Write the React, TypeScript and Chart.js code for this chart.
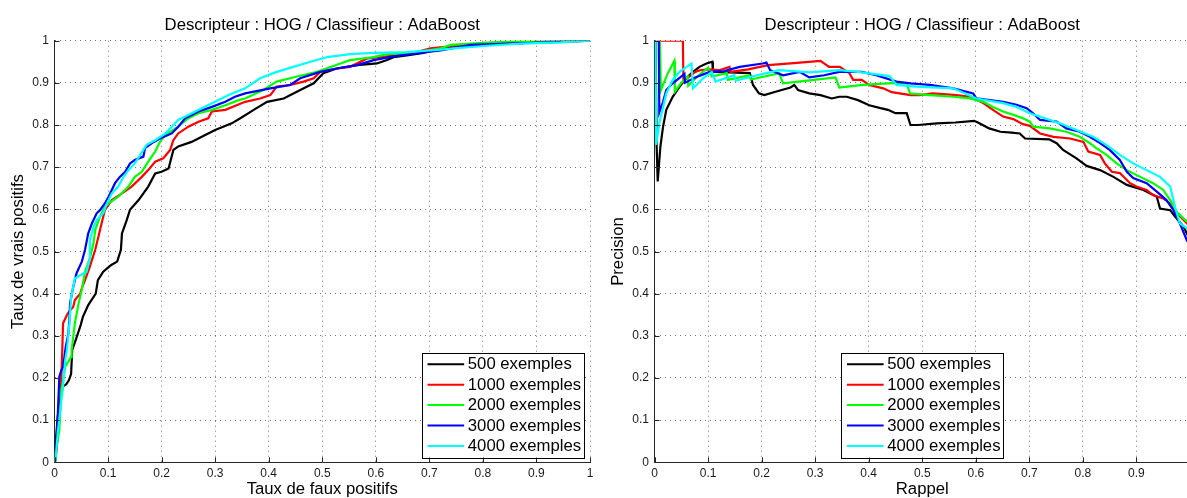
import React, { useEffect, useRef } from "react";
import { Chart, registerables } from "chart.js";

Chart.register(...registerables);

type Pt = [number, number];

const chartTitle = "Descripteur : HOG / Classifieur : AdaBoost";
const seriesLabels = ["500 exemples", "1000 exemples", "2000 exemples", "3000 exemples", "4000 exemples"];
const seriesColors = ["#000000", "#ff0000", "#00ff00", "#0000ff", "#00ffff"];
const axisTickValues = [0, 0.1, 0.2, 0.3, 0.4, 0.5, 0.6, 0.7, 0.8, 0.9, 1];
const tickLabels = ["0", "0.1", "0.2", "0.3", "0.4", "0.5", "0.6", "0.7", "0.8", "0.9", "1"];

// ROC curves: [false positive rate, true positive rate]
const roc500: Pt[] = [[0,0],[0.003,0.06],[0.006,0.108],[0.012,0.16],[0.016,0.18],[0.022,0.185],[0.027,0.195],[0.031,0.21],[0.033,0.266],[0.041,0.295],[0.049,0.326],[0.053,0.345],[0.063,0.373],[0.077,0.4],[0.081,0.432],[0.091,0.452],[0.106,0.468],[0.117,0.476],[0.124,0.504],[0.126,0.543],[0.135,0.575],[0.141,0.599],[0.157,0.622],[0.175,0.654],[0.188,0.685],[0.2,0.689],[0.213,0.697],[0.222,0.741],[0.231,0.749],[0.256,0.76],[0.275,0.772],[0.3,0.788],[0.331,0.804],[0.347,0.816],[0.372,0.836],[0.397,0.855],[0.428,0.863],[0.459,0.883],[0.484,0.899],[0.502,0.923],[0.527,0.934],[0.565,0.942],[0.602,0.946],[0.621,0.954],[0.633,0.961],[0.658,0.965],[0.689,0.971],[0.721,0.982],[0.8,0.99],[0.9,0.996],[0.95,1],[1,1]];
const roc1000: Pt[] = [[0,0],[0.002,0.005],[0.006,0.061],[0.011,0.148],[0.014,0.243],[0.016,0.33],[0.023,0.349],[0.027,0.357],[0.035,0.369],[0.038,0.385],[0.048,0.4],[0.052,0.416],[0.057,0.432],[0.066,0.464],[0.076,0.504],[0.082,0.535],[0.088,0.567],[0.094,0.598],[0.107,0.622],[0.126,0.638],[0.144,0.654],[0.163,0.677],[0.175,0.693],[0.188,0.713],[0.203,0.721],[0.216,0.741],[0.222,0.764],[0.231,0.78],[0.25,0.796],[0.269,0.808],[0.287,0.816],[0.294,0.832],[0.319,0.836],[0.356,0.855],[0.384,0.863],[0.403,0.871],[0.415,0.891],[0.44,0.895],[0.465,0.903],[0.484,0.911],[0.496,0.926],[0.527,0.934],[0.552,0.938],[0.584,0.958],[0.608,0.961],[0.64,0.965],[0.671,0.971],[0.702,0.982],[0.749,0.988],[0.85,0.996],[0.95,1],[1,1]];
const roc2000: Pt[] = [[0,0],[0.002,0.022],[0.009,0.077],[0.013,0.172],[0.016,0.195],[0.02,0.227],[0.031,0.25],[0.032,0.266],[0.038,0.33],[0.045,0.377],[0.051,0.409],[0.057,0.452],[0.066,0.484],[0.073,0.52],[0.076,0.551],[0.085,0.583],[0.094,0.606],[0.101,0.614],[0.119,0.63],[0.138,0.654],[0.15,0.677],[0.163,0.689],[0.175,0.713],[0.188,0.737],[0.197,0.76],[0.207,0.776],[0.231,0.796],[0.25,0.816],[0.269,0.828],[0.294,0.836],[0.319,0.847],[0.344,0.859],[0.356,0.863],[0.39,0.883],[0.415,0.903],[0.453,0.915],[0.49,0.926],[0.534,0.946],[0.552,0.954],[0.596,0.961],[0.621,0.968],[0.671,0.971],[0.721,0.982],[0.74,0.99],[0.839,0.998],[0.9,1],[1,1]];
const roc3000: Pt[] = [[0,0],[0.002,0.005],[0.006,0.108],[0.009,0.203],[0.013,0.219],[0.016,0.225],[0.021,0.274],[0.026,0.306],[0.028,0.345],[0.029,0.377],[0.035,0.416],[0.041,0.448],[0.051,0.476],[0.057,0.504],[0.063,0.543],[0.07,0.567],[0.079,0.591],[0.085,0.598],[0.094,0.614],[0.101,0.63],[0.107,0.646],[0.113,0.662],[0.122,0.677],[0.132,0.689],[0.141,0.709],[0.15,0.717],[0.166,0.725],[0.169,0.745],[0.182,0.757],[0.197,0.768],[0.219,0.78],[0.231,0.796],[0.244,0.816],[0.269,0.832],[0.294,0.843],[0.319,0.855],[0.337,0.867],[0.356,0.875],[0.403,0.887],[0.44,0.895],[0.459,0.911],[0.496,0.926],[0.527,0.934],[0.565,0.942],[0.596,0.954],[0.633,0.963],[0.671,0.969],[0.721,0.977],[0.777,0.99],[0.87,0.994],[0.963,0.998],[1,1]];
const roc4000: Pt[] = [[0,0],[0.002,0.005],[0.006,0.069],[0.013,0.148],[0.016,0.18],[0.02,0.243],[0.023,0.265],[0.028,0.33],[0.031,0.39],[0.038,0.436],[0.048,0.444],[0.06,0.452],[0.066,0.484],[0.066,0.527],[0.073,0.559],[0.079,0.575],[0.091,0.591],[0.098,0.614],[0.107,0.638],[0.119,0.654],[0.129,0.677],[0.138,0.693],[0.15,0.709],[0.16,0.729],[0.172,0.753],[0.188,0.764],[0.207,0.78],[0.219,0.796],[0.231,0.812],[0.25,0.824],[0.275,0.84],[0.3,0.855],[0.325,0.871],[0.356,0.887],[0.384,0.911],[0.415,0.926],[0.446,0.938],[0.478,0.95],[0.509,0.961],[0.552,0.968],[0.596,0.971],[0.658,0.973],[0.721,0.979],[0.745,0.982],[0.808,0.988],[0.87,0.993],[0.945,0.996],[1,1]];

// Precision / recall curves: [recall, precision]
const pr500: Pt[] = [[0.002,1],[0.004,0.75],[0.006,0.666],[0.011,0.749],[0.016,0.796],[0.022,0.836],[0.034,0.867],[0.047,0.891],[0.059,0.911],[0.072,0.926],[0.084,0.938],[0.097,0.946],[0.108,0.95],[0.109,0.926],[0.14,0.925],[0.178,0.923],[0.184,0.895],[0.195,0.875],[0.205,0.871],[0.226,0.879],[0.254,0.889],[0.261,0.895],[0.268,0.883],[0.289,0.875],[0.31,0.871],[0.331,0.863],[0.345,0.867],[0.359,0.867],[0.38,0.859],[0.401,0.847],[0.422,0.84],[0.436,0.836],[0.45,0.828],[0.471,0.828],[0.478,0.8],[0.492,0.8],[0.527,0.804],[0.562,0.806],[0.597,0.81],[0.604,0.806],[0.625,0.792],[0.646,0.784],[0.667,0.782],[0.682,0.78],[0.692,0.768],[0.737,0.766],[0.751,0.757],[0.763,0.741],[0.788,0.721],[0.807,0.703],[0.832,0.693],[0.857,0.677],[0.882,0.658],[0.913,0.646],[0.938,0.63],[0.944,0.602],[0.963,0.598],[0.972,0.583],[0.988,0.559],[0.994,0.543],[1,0.53]];
const pr1000: Pt[] = [[0,1],[0.053,1],[0.054,0.905],[0.065,0.915],[0.075,0.925],[0.085,0.93],[0.1,0.932],[0.121,0.93],[0.14,0.938],[0.142,0.926],[0.175,0.932],[0.212,0.942],[0.26,0.947],[0.31,0.952],[0.326,0.938],[0.346,0.938],[0.364,0.923],[0.371,0.907],[0.387,0.907],[0.401,0.895],[0.427,0.887],[0.443,0.878],[0.478,0.871],[0.495,0.871],[0.52,0.875],[0.564,0.871],[0.589,0.867],[0.614,0.852],[0.632,0.836],[0.651,0.82],[0.67,0.814],[0.688,0.802],[0.701,0.798],[0.72,0.78],[0.745,0.772],[0.776,0.768],[0.801,0.76],[0.81,0.737],[0.832,0.729],[0.841,0.709],[0.854,0.689],[0.869,0.686],[0.888,0.662],[0.9,0.654],[0.919,0.646],[0.931,0.634],[0.95,0.626],[0.963,0.614],[0.975,0.591],[0.988,0.575],[0.994,0.567],[1,0.56]];
const pr2000: Pt[] = [[0.01,1],[0.012,0.883],[0.025,0.923],[0.037,0.952],[0.038,0.879],[0.05,0.9],[0.062,0.915],[0.063,0.893],[0.08,0.915],[0.1,0.936],[0.107,0.915],[0.135,0.923],[0.137,0.907],[0.177,0.918],[0.18,0.908],[0.233,0.923],[0.24,0.899],[0.29,0.906],[0.338,0.913],[0.345,0.889],[0.389,0.895],[0.452,0.9],[0.471,0.899],[0.477,0.875],[0.514,0.871],[0.558,0.867],[0.589,0.863],[0.614,0.855],[0.632,0.843],[0.651,0.832],[0.67,0.824],[0.688,0.816],[0.701,0.808],[0.707,0.796],[0.738,0.792],[0.769,0.784],[0.794,0.772],[0.813,0.757],[0.825,0.745],[0.844,0.729],[0.863,0.709],[0.882,0.693],[0.907,0.677],[0.931,0.662],[0.95,0.646],[0.963,0.622],[0.975,0.594],[0.994,0.571],[1,0.568]];
const pr3000: Pt[] = [[0.006,1],[0.008,1],[0.009,0.83],[0.016,0.855],[0.022,0.883],[0.034,0.899],[0.056,0.921],[0.057,0.9],[0.075,0.912],[0.103,0.926],[0.13,0.928],[0.159,0.938],[0.202,0.946],[0.209,0.948],[0.216,0.93],[0.24,0.918],[0.271,0.926],[0.289,0.913],[0.317,0.918],[0.345,0.926],[0.387,0.926],[0.414,0.918],[0.452,0.903],[0.478,0.899],[0.514,0.895],[0.558,0.887],[0.595,0.875],[0.601,0.863],[0.626,0.859],[0.651,0.855],[0.676,0.848],[0.695,0.84],[0.707,0.828],[0.72,0.812],[0.751,0.808],[0.769,0.792],[0.794,0.784],[0.813,0.772],[0.832,0.757],[0.85,0.741],[0.869,0.717],[0.882,0.689],[0.894,0.674],[0.919,0.662],[0.938,0.642],[0.956,0.622],[0.969,0.598],[0.981,0.567],[0.994,0.527],[1,0.515]];
const pr4000: Pt[] = [[0,1],[0.002,1],[0.003,0.753],[0.009,0.804],[0.016,0.843],[0.022,0.875],[0.034,0.907],[0.047,0.926],[0.069,0.946],[0.072,0.887],[0.09,0.91],[0.107,0.926],[0.114,0.903],[0.149,0.918],[0.152,0.905],[0.191,0.918],[0.233,0.93],[0.29,0.925],[0.345,0.93],[0.38,0.926],[0.439,0.916],[0.452,0.895],[0.489,0.891],[0.558,0.887],[0.58,0.875],[0.601,0.863],[0.651,0.852],[0.676,0.843],[0.701,0.828],[0.757,0.804],[0.788,0.788],[0.819,0.772],[0.844,0.753],[0.869,0.729],[0.894,0.709],[0.919,0.693],[0.944,0.677],[0.963,0.654],[0.969,0.622],[0.972,0.606],[0.981,0.567],[0.994,0.555],[1,0.55]];

const rocSeries = [roc500, roc1000, roc2000, roc3000, roc4000];
const prSeries = [pr500, pr1000, pr2000, pr3000, pr4000];

const FONT = '"Liberation Sans", Arial, Helvetica, sans-serif';
const BIG = 16.7;
const AXIS_COLOR = "#262626";

const decorPlugin = {
  id: "decor",
  afterDraw(chart: any, _args: any, opts: any) {
    const ctx: CanvasRenderingContext2D = chart.ctx;
    const a = chart.chartArea;
    const xs = chart.scales.x;
    const ys = chart.scales.y;
    ctx.save();
    // inward tick marks
    ctx.strokeStyle = AXIS_COLOR;
    ctx.lineWidth = 1;
    ctx.setLineDash([]);
    xs.ticks.forEach((t: any) => {
      const px = Math.round(xs.getPixelForValue(t.value)) + 0.5;
      ctx.beginPath();
      ctx.moveTo(px, a.bottom);
      ctx.lineTo(px, a.bottom - 5);
      ctx.stroke();
    });
    ys.ticks.forEach((t: any) => {
      const py = Math.round(ys.getPixelForValue(t.value)) + 0.5;
      ctx.beginPath();
      ctx.moveTo(a.left, py);
      ctx.lineTo(a.left + 5, py);
      ctx.stroke();
    });
    // title
    ctx.font = `${BIG}px ${FONT}`;
    ctx.fillStyle = "#000";
    ctx.textAlign = "center";
    ctx.textBaseline = "alphabetic";
    ctx.fillText(opts.title, (a.left + a.right) / 2, 30);
    // legend
    const ds = chart.data.datasets;
    const maxW = Math.max(...ds.map((d: any) => ctx.measureText(d.label).width));
    const w = 46.3 + maxW + 3;
    const h = 104.6;
    const left = opts.legend === "southeast" ? a.right - 6 - w : (a.left + a.right) / 2 - w / 2;
    const top = a.bottom - 5 - h;
    ctx.fillStyle = "#ffffff";
    ctx.fillRect(left, top, w, h);
    ctx.strokeStyle = "#000";
    ctx.lineWidth = 1;
    ctx.strokeRect(Math.round(left) + 0.5, Math.round(top) + 0.5, Math.round(w), Math.round(h));
    ctx.textAlign = "left";
    ctx.textBaseline = "middle";
    ds.forEach((d: any, i: number) => {
      const cy = top + 11.6 + 20.4 * i;
      ctx.strokeStyle = d.borderColor;
      ctx.lineWidth = 2;
      ctx.beginPath();
      ctx.moveTo(left + 6, cy);
      ctx.lineTo(left + 42.6, cy);
      ctx.stroke();
      ctx.fillStyle = "#000";
      ctx.fillText(d.label, left + 46.3, cy + 0.5);
    });
    ctx.restore();
  },
};

function axisOptions(axis: "x" | "y", title: string) {
  const isX = axis === "x";
  return {
    type: "linear",
    min: 0,
    max: 1,
    afterFit: (s: any) => {
      if (isX) s.height = 35.7;
      else s.width = 54.5;
    },
    afterBuildTicks: (s: any) => {
      s.ticks = axisTickValues.map((v) => ({ value: v }));
    },
    ticks: {
      autoSkip: false,
      maxRotation: 0,
      padding: isX ? 4 : 5.5,
      color: "#1a1a1a",
      font: { family: FONT, size: 12 },
      callback: (_v: any, i: number) => tickLabels[i],
    },
    grid: {
      color: "rgba(0,0,0,0.55)",
      lineWidth: 1,
      drawTicks: false,
    },
    border: { display: true, color: AXIS_COLOR, width: 1, dash: [1, 4] },
    title: {
      display: true,
      text: title,
      color: "#000",
      font: { family: FONT, size: BIG, lineHeight: 1 },
      padding: isX ? { top: 0, bottom: 0 } : { top: 10, bottom: 0 },
    },
  };
}

function makeConfig(series: Pt[][], xTitle: string, yTitle: string, legendWhere: string): any {
  return {
    type: "line",
    data: {
      datasets: series.map((s, i) => ({
        label: seriesLabels[i],
        data: s.map(([x, y]) => ({ x, y })),
        borderColor: seriesColors[i],
        backgroundColor: seriesColors[i],
        borderWidth: 2.2,
        pointRadius: 0,
        tension: 0,
        fill: false,
        order: series.length - i,
      })),
    },
    options: {
      responsive: false,
      animation: false,
      events: [],
      layout: { padding: { left: 0, right: 10, top: 40.7, bottom: 0 } },
      plugins: {
        legend: { display: false },
        tooltip: { enabled: false },
        decor: { title: chartTitle, legend: legendWhere },
      },
      scales: {
        x: axisOptions("x", xTitle),
        y: axisOptions("y", yTitle),
      },
    },
    plugins: [decorPlugin],
  };
}

function Plot(props: { series: Pt[][]; xTitle: string; yTitle: string; legend: string; left: number }) {
  const ref = useRef<HTMLCanvasElement | null>(null);
  useEffect(() => {
    if (!ref.current) return;
    const chart = new Chart(ref.current, makeConfig(props.series, props.xTitle, props.yTitle, props.legend));
    return () => chart.destroy();
  }, []);
  return (
    <div style={{ position: "absolute", left: props.left, top: 0, width: 600, height: 498 }}>
      <canvas ref={ref} width={600} height={498} style={{ display: "block" }} />
    </div>
  );
}

export default function App() {
  return (
    <div
      style={{
        position: "absolute",
        left: 0,
        top: 0,
        width: 1187,
        height: 498,
        overflow: "hidden",
        background: "#ffffff",
      }}
    >
      <Plot series={rocSeries} xTitle="Taux de faux positifs" yTitle="Taux de vrais positifs" legend="southeast" left={0} />
      <Plot series={prSeries} xTitle="Rappel" yTitle="Precision" legend="south" left={600} />
    </div>
  );
}
